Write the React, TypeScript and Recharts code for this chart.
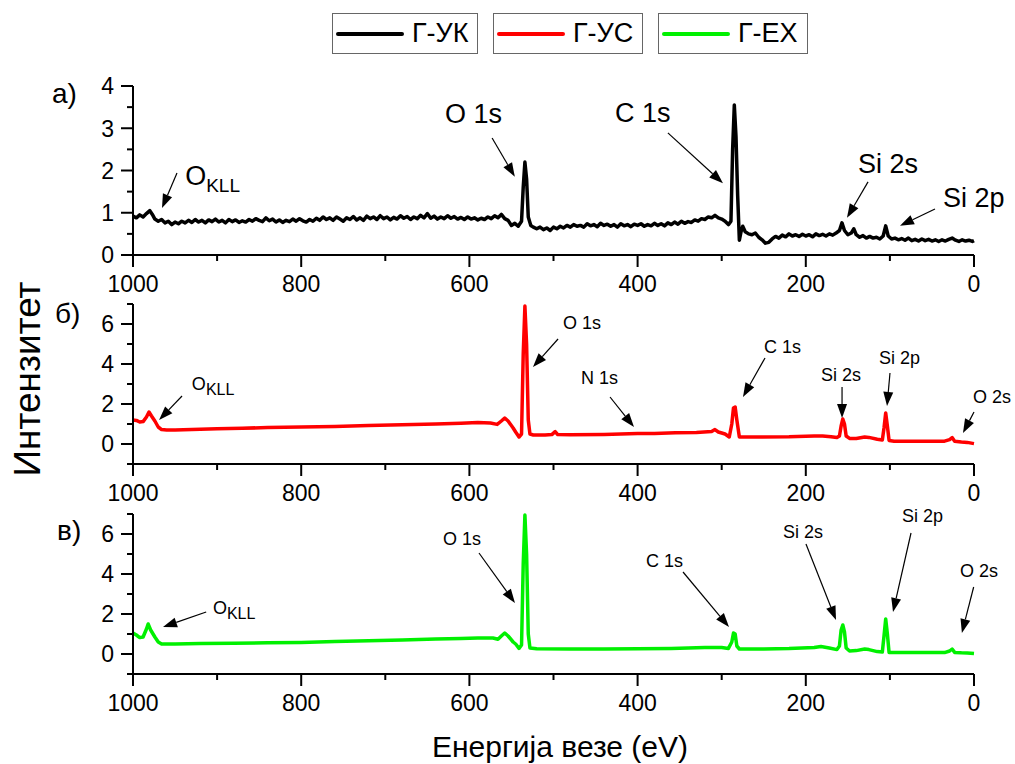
import React from "react";
import { LineChart, Line, XAxis, YAxis, ReferenceLine, ReferenceDot } from "recharts";

// Legend entries
const seriesNames = ["Г-УК", "Г-УС", "Г-ЕХ"];
const seriesColors = ["#000000", "#ff0000", "#00f000"];
const panelLabels = ["a)", "б)", "в)"];

// Axis ticks
const energyTicks = [1000, 900, 800, 700, 600, 500, 400, 300, 200, 100, 0];
const energyLabels = [1000, 800, 600, 400, 200, 0];
const ticksA = [0, 0.5, 1, 1.5, 2, 2.5, 3, 3.5, 4];
const labelsA = [0, 1, 2, 3, 4];
const ticksBC = [-1, 0, 1, 2, 3, 4, 5, 6, 7];
const labelsBC = [0, 2, 4, 6];

// [binding energy (eV), intensity]
const spectrumUK: [number, number][] = [
  [1000, 0.92], [996, 0.88], [992, 0.95], [988, 0.9], [984, 0.98], [980, 1.05], [977, 0.96], [974, 0.85],
  [970, 0.8], [966, 0.84], [962, 0.76], [958, 0.8], [954, 0.72], [950, 0.78], [946, 0.74], [942, 0.8],
  [938, 0.76], [934, 0.82], [930, 0.77], [926, 0.84], [922, 0.78], [918, 0.82], [914, 0.76], [910, 0.83],
  [906, 0.79], [902, 0.85], [898, 0.78], [894, 0.82], [890, 0.76], [886, 0.84], [882, 0.79], [878, 0.83],
  [874, 0.77], [870, 0.81], [866, 0.78], [862, 0.84], [858, 0.8], [854, 0.86], [850, 0.82], [846, 0.79],
  [842, 0.88], [838, 0.81], [834, 0.85], [830, 0.78], [826, 0.83], [822, 0.77], [818, 0.82], [814, 0.79],
  [810, 0.85], [806, 0.8], [802, 0.86], [798, 0.81], [794, 0.78], [790, 0.84], [786, 0.8], [782, 0.87],
  [778, 0.82], [774, 0.9], [770, 0.84], [766, 0.88], [762, 0.82], [758, 0.9], [754, 0.85], [750, 0.8],
  [746, 0.88], [742, 0.84], [738, 0.91], [734, 0.83], [730, 0.88], [726, 0.82], [722, 0.92], [718, 0.86],
  [714, 0.9], [710, 0.84], [706, 0.93], [702, 0.86], [698, 0.9], [694, 0.83], [690, 0.89], [686, 0.85],
  [682, 0.93], [678, 0.87], [674, 0.91], [670, 0.84], [666, 0.9], [662, 0.86], [658, 0.94], [654, 0.88],
  [650, 0.98], [646, 0.87], [642, 0.92], [638, 0.85], [634, 0.9], [630, 0.86], [626, 0.93], [622, 0.87],
  [618, 0.91], [614, 0.85], [610, 0.89], [606, 0.84], [602, 0.9], [598, 0.85], [594, 0.88], [590, 0.83],
  [586, 0.87], [582, 0.84], [578, 0.9], [574, 0.86], [570, 0.93], [566, 0.88], [562, 0.96], [558, 0.86],
  [554, 0.82], [550, 0.7], [546, 0.75], [542, 0.68], [538, 0.8], [536, 1.6], [534, 2.2], [532, 1.8],
  [530, 0.9], [527, 0.7], [524, 0.66], [520, 0.62], [516, 0.66], [512, 0.6], [508, 0.64], [504, 0.58],
  [500, 0.66], [496, 0.62], [492, 0.68], [488, 0.64], [484, 0.7], [480, 0.66], [476, 0.72], [472, 0.68],
  [468, 0.7], [464, 0.66], [460, 0.74], [456, 0.69], [452, 0.72], [448, 0.67], [444, 0.75], [440, 0.7],
  [436, 0.73], [432, 0.68], [428, 0.72], [424, 0.66], [420, 0.74], [416, 0.69], [412, 0.72], [408, 0.67],
  [404, 0.73], [400, 0.7], [396, 0.74], [392, 0.68], [388, 0.72], [384, 0.69], [380, 0.75], [376, 0.7],
  [372, 0.74], [368, 0.69], [364, 0.76], [360, 0.72], [356, 0.78], [352, 0.73], [348, 0.8], [344, 0.75],
  [340, 0.79], [336, 0.77], [332, 0.83], [328, 0.8], [324, 0.86], [320, 0.84], [316, 0.9], [312, 0.88],
  [308, 0.94], [304, 0.88], [300, 0.85], [296, 0.8], [292, 0.72], [289, 0.8], [287, 2.5], [285, 3.55],
  [283, 2.8], [281, 1.4], [279, 0.35], [277, 0.55], [275, 0.68], [272, 0.55], [268, 0.5], [264, 0.48],
  [260, 0.52], [256, 0.42], [252, 0.36], [248, 0.28], [244, 0.3], [240, 0.38], [236, 0.44], [232, 0.4],
  [228, 0.47], [224, 0.43], [220, 0.5], [216, 0.45], [212, 0.48], [208, 0.44], [204, 0.49], [200, 0.45],
  [196, 0.48], [192, 0.43], [188, 0.5], [184, 0.46], [180, 0.49], [176, 0.45], [172, 0.5], [168, 0.47],
  [164, 0.52], [160, 0.58], [157, 0.76], [154, 0.58], [150, 0.48], [146, 0.52], [143, 0.62], [140, 0.48],
  [136, 0.42], [132, 0.46], [128, 0.4], [124, 0.44], [120, 0.4], [116, 0.42], [112, 0.38], [108, 0.45],
  [105, 0.69], [102, 0.45], [98, 0.38], [94, 0.4], [90, 0.36], [86, 0.39], [82, 0.35], [78, 0.4],
  [74, 0.34], [70, 0.37], [66, 0.33], [62, 0.38], [58, 0.34], [54, 0.37], [50, 0.33], [46, 0.36],
  [42, 0.32], [38, 0.36], [34, 0.33], [30, 0.37], [26, 0.4], [22, 0.35], [18, 0.32], [14, 0.36],
  [10, 0.33], [6, 0.35], [2, 0.32], [0, 0.34],
];

const spectrumUS: [number, number][] = [
  [1000, 1.2], [996, 1.18], [992, 1.1], [988, 1.12], [984, 1.35], [981, 1.6], [978, 1.4], [974, 1.15],
  [970, 0.85], [966, 0.72], [960, 0.7], [950, 0.7], [930, 0.72], [900, 0.76], [870, 0.79], [840, 0.82],
  [800, 0.85], [760, 0.88], [720, 0.92], [680, 0.96], [640, 1.0], [610, 1.04], [590, 1.07], [575, 1.05],
  [567, 0.98], [562, 1.15], [558, 1.3], [554, 1.15], [548, 0.8], [545, 0.6], [541, 0.35], [538, 0.5],
  [536, 4.5], [534, 6.9], [532, 5.0], [530, 1.2], [528, 0.5], [524, 0.45], [510, 0.45], [502, 0.47],
  [498, 0.62], [495, 0.47], [480, 0.46], [440, 0.48], [400, 0.52], [380, 0.52], [355, 0.56], [330, 0.58],
  [312, 0.62], [308, 0.72], [304, 0.6], [296, 0.5], [291, 0.35], [288, 1.0], [286, 1.8], [284, 1.85],
  [282, 1.2], [279, 0.35], [260, 0.35], [220, 0.36], [190, 0.4], [180, 0.4], [170, 0.36], [163, 0.32],
  [160, 0.4], [158, 0.9], [156, 1.25], [154, 1.0], [152, 0.4], [148, 0.28], [140, 0.28], [130, 0.35],
  [125, 0.33], [115, 0.24], [109, 0.2], [107, 0.8], [105, 1.55], [103, 0.9], [101, 0.18], [95, 0.14],
  [60, 0.14], [35, 0.14], [29, 0.22], [26, 0.32], [23, 0.14], [15, 0.1], [8, 0.08], [0, 0.02],
];

const spectrumEX: [number, number][] = [
  [1000, 1.05], [996, 0.95], [992, 0.82], [988, 0.85], [984, 1.25], [982, 1.5], [979, 1.2], [974, 0.85],
  [970, 0.6], [966, 0.5], [950, 0.5], [920, 0.52], [880, 0.54], [840, 0.56], [800, 0.58], [760, 0.62],
  [720, 0.66], [680, 0.7], [640, 0.75], [610, 0.78], [590, 0.8], [572, 0.8], [566, 0.74], [562, 0.9],
  [558, 1.05], [554, 0.9], [548, 0.6], [545, 0.5], [541, 0.28], [538, 0.45], [536, 4.5], [534, 6.95],
  [532, 5.0], [530, 1.0], [528, 0.3], [520, 0.26], [480, 0.25], [440, 0.25], [400, 0.26], [360, 0.28],
  [320, 0.33], [300, 0.32], [292, 0.28], [288, 0.6], [286, 1.05], [284, 1.0], [282, 0.4], [279, 0.25],
  [250, 0.25], [220, 0.27], [190, 0.32], [182, 0.37], [172, 0.3], [163, 0.22], [160, 0.4], [158, 1.2],
  [156, 1.45], [154, 1.1], [152, 0.3], [148, 0.15], [140, 0.17], [130, 0.25], [125, 0.22], [115, 0.12],
  [109, 0.1], [107, 0.9], [105, 1.75], [103, 1.0], [101, 0.08], [95, 0.07], [60, 0.07], [35, 0.07],
  [29, 0.15], [26, 0.25], [23, 0.08], [15, 0.06], [8, 0.05], [0, 0.02],
];

type Note = { text: string; sub?: string; at: [number, number]; from: [number, number]; to: [number, number] };

const notesA: Note[] = [
  { text: "O", sub: "KLL", at: [938, 1.66], from: [947.7, 1.94], to: [965.5, 1.11] },
  { text: "O 1s", at: [629, 3.12], from: [573, 2.77], to: [546, 1.85] },
  { text: "C 1s", at: [427, 3.15], from: [364, 2.89], to: [298.5, 1.7] },
  { text: "Si 2s", at: [138, 1.94], from: [126, 1.73], to: [151, 0.88] },
  { text: "Si 2p", at: [37, 1.14], from: [46.4, 1.09], to: [88, 0.69] },
];

const notesB: Note[] = [
  { text: "O", sub: "KLL", at: [930, 2.7], from: [941.7, 2.4], to: [969, 1.2] },
  { text: "O 1s", at: [488.7, 5.75], from: [494.6, 5.25], to: [524.4, 3.85] },
  { text: "N 1s", at: [467.3, 3.0], from: [432.8, 2.35], to: [404.3, 0.85] },
  { text: "C 1s", at: [249.7, 4.55], from: [248.5, 4.3], to: [274.7, 2.35] },
  { text: "Si 2s", at: [181.9, 3.15], from: [156.9, 2.85], to: [156.9, 1.3] },
  { text: "Si 2p", at: [113, 4.0], from: [99.9, 3.55], to: [103.4, 1.9] },
  { text: "O 2s", at: [1.2, 2.05], from: [0, 1.6], to: [13.1, 0.55] },
];

const notesC: Note[] = [
  { text: "O", sub: "KLL", at: [905, 2.0], from: [913, 2.1], to: [964.3, 1.35] },
  { text: "O 1s", at: [631.4, 5.45], from: [588.6, 5.05], to: [545.8, 2.55] },
  { text: "C 1s", at: [390, 4.35], from: [346, 4.1], to: [291.3, 1.35] },
  { text: "Si 2s", at: [227, 5.8], from: [199.8, 5.5], to: [164.1, 1.7] },
  { text: "Si 2p", at: [85.6, 6.6], from: [74.9, 6.05], to: [96.3, 2.1] },
  { text: "O 2s", at: [16.6, 3.85], from: [0.4, 3.35], to: [14.4, 1.05] },
];

const FONT = "'Liberation Sans', Arial, sans-serif";

const toRows = (pts: [number, number][]) => pts.map(([e, v]) => ({ e, v }));

const XTick = (props: any) => {
  const { x, y, payload } = props;
  const major = energyLabels.includes(payload.value);
  return (
    <g>
      <line x1={x} x2={x} y1={y} y2={y + (major ? 12 : 6)} stroke="#000" strokeWidth={2} />
      {major && (
        <text x={x} y={y + 37} textAnchor="middle" fontSize={23} fontFamily={FONT} fill="#000">
          {payload.value}
        </text>
      )}
    </g>
  );
};

const makeYTick = (labels: number[]) => (props: any) => {
  const { x, y, payload } = props;
  const major = labels.includes(payload.value);
  return (
    <g>
      <line x1={x - (major ? 12 : 6)} x2={x} y1={y} y2={y} stroke="#000" strokeWidth={2} />
      {major && (
        <text x={x - 19} y={y} dy="0.36em" textAnchor="end" fontSize={23} fontFamily={FONT} fill="#000">
          {payload.value}
        </text>
      )}
    </g>
  );
};

const ArrowShape = (props: any) => {
  const { x1, y1, x2, y2 } = props;
  const dx = x2 - x1;
  const dy = y2 - y1;
  const len = Math.hypot(dx, dy) || 1;
  const ux = dx / len;
  const uy = dy / len;
  const head = 14;
  const half = 5;
  const bx = x2 - ux * head;
  const by = y2 - uy * head;
  const pts = `${x2},${y2} ${bx - uy * half},${by + ux * half} ${bx + uy * half},${by - ux * half}`;
  return (
    <g>
      <line x1={x1} y1={y1} x2={bx} y2={by} stroke="#000" strokeWidth={1.2} />
      <polygon points={pts} fill="#000" />
    </g>
  );
};

function Panel(props: {
  rows: { e: number; v: number }[];
  color: string;
  width: number;
  domain: [number, number];
  ticks: number[];
  labels: number[];
  notes: Note[];
  fontSize: number;
  subSize: number;
  top: number;
  height: number;
  marginTop: number;
}) {
  const { rows, color, width, domain, ticks, labels, notes, fontSize, subSize, top, height, marginTop } = props;
  return (
    <div style={{ position: "absolute", left: 0, top }}>
      <LineChart width={1015} height={height} data={rows} margin={{ top: marginTop, right: 41, bottom: 0, left: 0 }}>
        <XAxis
          type="number"
          dataKey="e"
          domain={[0, 1000]}
          reversed
          ticks={energyTicks}
          interval={0}
          tickLine={false}
          tickSize={0}
          tickMargin={0}
          tick={XTick}
          height={45}
          axisLine={{ stroke: "#000", strokeWidth: 2 }}
        />
        <YAxis
          type="number"
          domain={domain}
          ticks={ticks}
          interval={0}
          tickLine={false}
          tickSize={0}
          tickMargin={0}
          tick={makeYTick(labels)}
          width={133}
          axisLine={{ stroke: "#000", strokeWidth: 2 }}
        />
        <Line
          type="linear"
          dataKey="v"
          stroke={color}
          strokeWidth={width}
          strokeLinejoin="round"
          dot={false}
          isAnimationActive={false}
        />
        {notes.map((n, i) => (
          <ReferenceLine
            key={"a" + i}
            segment={[{ x: n.from[0], y: n.from[1] }, { x: n.to[0], y: n.to[1] }]}
            ifOverflow="visible"
            shape={ArrowShape}
          />
        ))}
        {notes.map((n, i) => (
          <ReferenceDot
            key={"t" + i}
            x={n.at[0]}
            y={n.at[1]}
            r={1}
            ifOverflow="visible"
            shape={(p: any) => (
              <text x={p.cx} y={p.cy} fontSize={fontSize} fontFamily={FONT} fill="#000">
                {n.text}
                {n.sub && (
                  <tspan fontSize={subSize} dy={fontSize * 0.28}>
                    {n.sub}
                  </tspan>
                )}
              </text>
            )}
          />
        ))}
      </LineChart>
    </div>
  );
}

function LegendBox() {
  const widths = [146, 150, 150];
  const lefts = [332, 493, 658];
  return (
    <>
      {seriesNames.map((name, i) => (
        <div
          key={name}
          style={{
            position: "absolute",
            left: lefts[i],
            top: 13,
            width: widths[i],
            height: 41,
            boxSizing: "border-box",
            border: "1.5px solid #666",
            display: "flex",
            alignItems: "center",
            padding: "0 3px",
            fontFamily: FONT,
            fontSize: 27,
            color: "#000",
          }}
        >
          <div style={{ width: 68, height: 4, background: seriesColors[i], borderRadius: 2, marginRight: 8 }} />
          <span>{name}</span>
        </div>
      ))}
    </>
  );
}

export default function App() {
  return (
    <div style={{ position: "absolute", left: 0, top: 0, width: 1015, height: 764, background: "#fff" }}>
      <LegendBox />
      <Panel
        rows={toRows(spectrumUK)}
        color={seriesColors[0]}
        width={3.5}
        domain={[0, 4]}
        ticks={ticksA}
        labels={labelsA}
        notes={notesA}
        fontSize={27}
        subSize={19}
        top={0}
        height={300}
        marginTop={86}
      />
      <Panel
        rows={toRows(spectrumUS)}
        color={seriesColors[1]}
        width={3.5}
        domain={[-1, 7]}
        ticks={ticksBC}
        labels={labelsBC}
        notes={notesB}
        fontSize={18}
        subSize={16}
        top={290}
        height={219}
        marginTop={14}
      />
      <Panel
        rows={toRows(spectrumEX)}
        color={seriesColors[2]}
        width={3.5}
        domain={[-1, 7]}
        ticks={ticksBC}
        labels={labelsBC}
        notes={notesC}
        fontSize={18}
        subSize={16}
        top={490}
        height={229}
        marginTop={24}
      />
      <svg width={1015} height={764} style={{ position: "absolute", left: 0, top: 0, pointerEvents: "none" }}>
        <text x={52} y={103} fontSize={28} fontFamily={FONT}>{panelLabels[0]}</text>
        <text x={55} y={323} fontSize={28} fontFamily={FONT}>{panelLabels[1]}</text>
        <text x={57} y={540} fontSize={28} fontFamily={FONT}>{panelLabels[2]}</text>
        <text x={560} y={757} textAnchor="middle" fontSize={30} fontFamily={FONT}>
          Енергија везе (eV)
        </text>
        <text transform="translate(40,379) rotate(-90)" textAnchor="middle" fontSize={37} fontFamily={FONT}>
          Интензитет
        </text>
      </svg>
    </div>
  );
}
